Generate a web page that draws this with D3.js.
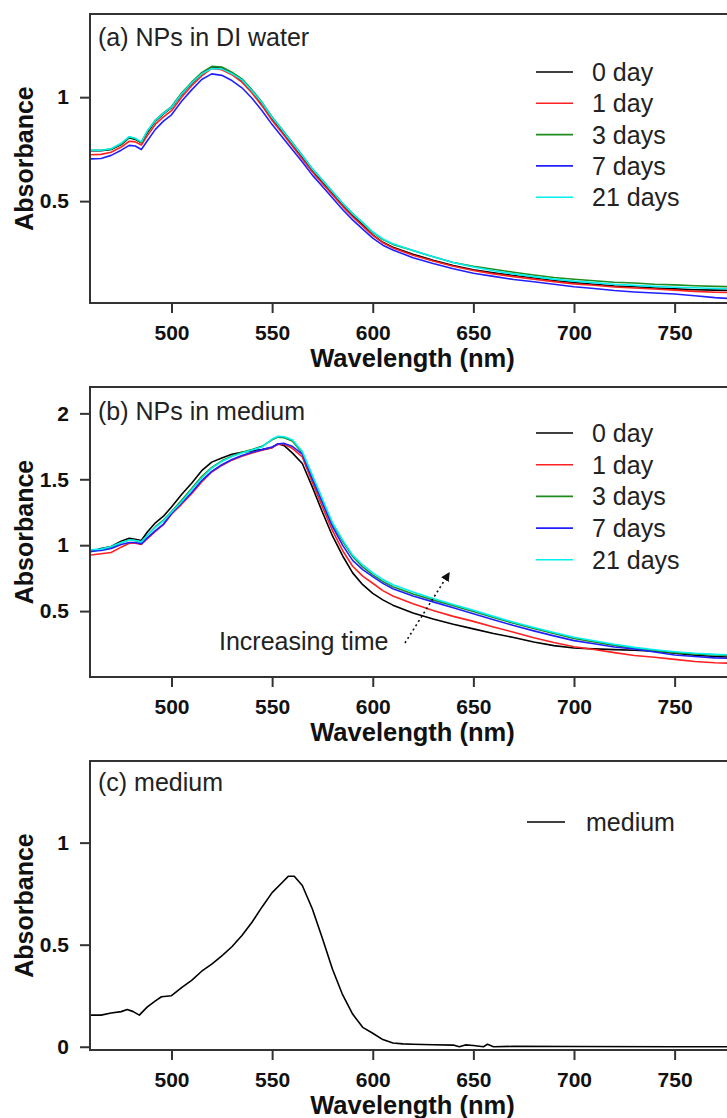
<!DOCTYPE html>
<html>
<head>
<meta charset="utf-8">
<script src="https://cdn.jsdelivr.net/npm/d3@7"></script>
<style>
  html, body { margin: 0; padding: 0; background: #fff; }
  svg { display: block; font-family: "Liberation Sans", Arial, sans-serif; }
</style>
</head>
<body>
<svg id="chart" width="727" height="1118"></svg>
<script>
// ---------------- DATA ----------------
const xTicks = [500, 550, 600, 650, 700, 750];
const yTicksA = [0.5, 1];
const yTicksB = [0.5, 1, 1.5, 2];
const yTicksC = [0, 0.5, 1];
const yTickLabelsA = ["0.5", "1"];
const yTickLabelsB = ["0.5", "1", "1.5", "2"];
const yTickLabelsC = ["0", "0.5", "1"];

const seriesNames = ["0 day", "1 day", "3 days", "7 days", "21 days"];
const mediumName = ["medium"];

const titles = ["(a) NPs in DI water", "(b) NPs in medium", "(c) medium"];
const xTitle = "Wavelength (nm)";
const yTitle = "Absorbance";

// Panel (a): NPs in DI water
const wavelengthsA = [460,465,470,475,479,482,485,488,492,496,500,505,510,515,520,525,530,535,540,545,550,555,560,565,570,575,580,585,590,595,600,605,610,620,630,640,650,660,670,680,690,700,710,720,730,740,750,760,770,780,790,800];
const a_day0  = [0.742,0.742,0.748,0.772,0.805,0.797,0.780,0.830,0.885,0.920,0.950,1.013,1.066,1.112,1.142,1.140,1.115,1.080,1.027,0.966,0.895,0.835,0.772,0.710,0.645,0.590,0.535,0.480,0.430,0.385,0.338,0.302,0.278,0.245,0.215,0.190,0.170,0.155,0.142,0.130,0.118,0.108,0.100,0.092,0.088,0.082,0.078,0.074,0.072,0.070,0.069,0.068];
const a_day1  = [0.723,0.725,0.735,0.760,0.788,0.785,0.770,0.815,0.870,0.905,0.935,1.000,1.055,1.102,1.138,1.132,1.108,1.072,1.020,0.958,0.888,0.828,0.765,0.703,0.640,0.585,0.530,0.475,0.425,0.380,0.335,0.300,0.275,0.240,0.212,0.187,0.166,0.150,0.137,0.125,0.113,0.102,0.095,0.087,0.082,0.077,0.072,0.066,0.062,0.060,0.059,0.058];
const a_day3  = [0.745,0.745,0.750,0.775,0.808,0.800,0.782,0.835,0.890,0.925,0.955,1.020,1.072,1.118,1.148,1.145,1.120,1.088,1.035,0.975,0.905,0.845,0.782,0.720,0.655,0.600,0.545,0.490,0.440,0.395,0.350,0.315,0.292,0.262,0.232,0.205,0.186,0.172,0.158,0.145,0.133,0.124,0.117,0.110,0.106,0.100,0.097,0.093,0.090,0.088,0.086,0.085];
const a_day7  = [0.703,0.705,0.720,0.745,0.768,0.765,0.748,0.790,0.845,0.885,0.915,0.980,1.035,1.085,1.112,1.105,1.080,1.045,0.995,0.935,0.868,0.808,0.748,0.688,0.625,0.570,0.515,0.460,0.410,0.365,0.322,0.288,0.265,0.228,0.200,0.175,0.153,0.138,0.123,0.112,0.100,0.088,0.080,0.070,0.063,0.058,0.053,0.045,0.036,0.030,0.028,0.026];
const a_day21 = [0.745,0.745,0.752,0.778,0.810,0.802,0.785,0.838,0.888,0.922,0.952,1.015,1.068,1.112,1.138,1.136,1.113,1.083,1.030,0.972,0.902,0.842,0.780,0.718,0.655,0.600,0.545,0.490,0.440,0.397,0.352,0.318,0.295,0.263,0.232,0.205,0.183,0.165,0.150,0.137,0.125,0.115,0.108,0.100,0.095,0.090,0.086,0.083,0.080,0.078,0.077,0.076];

// Panel (b): NPs in medium
const wavelengthsB = [460,465,470,475,479,482,485,488,492,496,500,505,510,515,520,525,530,535,540,545,550,553,556,560,565,570,575,580,585,590,595,600,605,610,620,630,640,650,660,670,680,690,700,710,720,730,740,750,760,770,780,790,800];
const b_day0  = [0.950,0.975,0.990,1.030,1.052,1.045,1.035,1.100,1.170,1.220,1.290,1.385,1.470,1.565,1.630,1.662,1.690,1.705,1.715,1.725,1.740,1.770,1.755,1.700,1.620,1.440,1.250,1.070,0.920,0.790,0.700,0.635,0.585,0.545,0.485,0.440,0.400,0.365,0.330,0.300,0.265,0.238,0.220,0.213,0.208,0.203,0.195,0.180,0.165,0.155,0.150,0.148,0.146];
const b_day1  = [0.926,0.935,0.945,0.985,1.015,1.015,1.005,1.050,1.105,1.155,1.235,1.310,1.390,1.480,1.555,1.605,1.645,1.675,1.700,1.720,1.740,1.765,1.765,1.735,1.670,1.475,1.290,1.110,0.960,0.840,0.765,0.711,0.655,0.615,0.555,0.505,0.460,0.422,0.380,0.340,0.298,0.262,0.230,0.208,0.185,0.163,0.150,0.134,0.118,0.108,0.104,0.102,0.100];
const b_day3  = [0.955,0.965,0.985,1.020,1.040,1.035,1.020,1.075,1.140,1.190,1.255,1.340,1.430,1.520,1.590,1.640,1.675,1.705,1.725,1.750,1.800,1.820,1.815,1.790,1.700,1.520,1.340,1.160,1.030,0.915,0.835,0.775,0.725,0.685,0.630,0.585,0.540,0.497,0.452,0.408,0.368,0.330,0.292,0.265,0.240,0.218,0.200,0.185,0.175,0.168,0.165,0.163,0.160];
const b_day7  = [0.955,0.960,0.975,1.005,1.020,1.020,1.010,1.055,1.110,1.160,1.240,1.320,1.400,1.490,1.560,1.610,1.650,1.680,1.705,1.725,1.745,1.770,1.772,1.750,1.690,1.500,1.320,1.140,1.000,0.885,0.815,0.761,0.710,0.670,0.615,0.570,0.525,0.480,0.435,0.390,0.350,0.312,0.276,0.252,0.228,0.212,0.190,0.167,0.155,0.145,0.140,0.138,0.136];
const b_day21 = [0.965,0.970,0.990,1.020,1.040,1.035,1.025,1.075,1.135,1.185,1.250,1.330,1.420,1.510,1.585,1.635,1.672,1.700,1.722,1.745,1.805,1.826,1.822,1.800,1.710,1.530,1.350,1.170,1.040,0.925,0.850,0.790,0.740,0.700,0.645,0.595,0.550,0.507,0.460,0.415,0.375,0.338,0.302,0.275,0.248,0.225,0.207,0.192,0.180,0.172,0.166,0.163,0.160];

// Panel (c): medium
const wavelengthsC = [460,465,470,475,478,481,484,488,492,495,500,505,510,515,520,525,530,535,540,545,550,555,558,561,565,570,575,580,585,590,595,600,605,610,615,620,630,640,643,646,650,655,657,660,670,700,750,800];
const c_medium = [0.155,0.155,0.165,0.172,0.182,0.172,0.155,0.195,0.225,0.245,0.250,0.290,0.325,0.370,0.405,0.445,0.490,0.545,0.610,0.685,0.755,0.805,0.835,0.835,0.790,0.675,0.530,0.380,0.255,0.160,0.095,0.066,0.035,0.018,0.014,0.012,0.010,0.008,0.000,0.009,0.006,0.000,0.012,0.000,0.002,0.001,0.000,0.000];

// Annotation in panel (b), data units
const annotText = "Increasing time";
const annotTextPos = [523.6, 0.27];   // [wavelength, absorbance] of text start
const annotArrow = [[616, 0.258], [638, 0.79]];

// ---------------- STYLE / LAYOUT ----------------
const colors = ["#000000", "#ff2020", "#1e8c1e", "#2020ff", "#00f0f0"];
const frameColor = "#333";
const left = 90, right = 735;
const panels = [
  { top: 14,  bottom: 303,  yDomain: [0.01, 1.40],  yTicks: yTicksA, yLabels: yTickLabelsA,
    xs: wavelengthsA, series: [a_day0, a_day1, a_day3, a_day7, a_day21], names: seriesNames, cols: colors,
    title: titles[0], titleY: 37, legend: { x1: 536, x2: 573, tx: 592, y0: 72, dy: 31.3 } },
  { top: 387, bottom: 677,  yDomain: [0, 2.2],      yTicks: yTicksB, yLabels: yTickLabelsB,
    xs: wavelengthsB, series: [b_day0, b_day1, b_day3, b_day7, b_day21], names: seriesNames, cols: colors,
    title: titles[1], titleY: 411, legend: { x1: 536, x2: 573, tx: 592, y0: 433, dy: 31.7 } },
  { top: 761, bottom: 1050, yDomain: [-0.016, 1.40], yTicks: yTicksC, yLabels: yTickLabelsC,
    xs: wavelengthsC, series: [c_medium], names: mediumName, cols: ["#000000"],
    title: titles[2], titleY: 782, legend: { x1: 527, x2: 565, tx: 586, y0: 822, dy: 31 } }
];

const svg = d3.select("#chart");
const defs = svg.append("defs");
defs.append("marker").attr("id", "arrowhead")
  .attr("viewBox", "0 0 10 10").attr("refX", 9).attr("refY", 5)
  .attr("markerWidth", 9).attr("markerHeight", 9).attr("markerUnits", "userSpaceOnUse")
  .attr("orient", "auto")
  .append("path").attr("d", "M0,0 L10,5 L0,10 Z").attr("fill", "#111");

const x = d3.scaleLinear().domain([459.5, 780]).range([left, right]);

panels.forEach((p, i) => {
  const y = d3.scaleLinear().domain(p.yDomain).range([p.bottom, p.top]);
  const g = svg.append("g");

  const clipId = "clip" + i;
  defs.append("clipPath").attr("id", clipId)
    .append("rect").attr("x", left).attr("y", p.top)
    .attr("width", right - left).attr("height", p.bottom - p.top);

  // series lines
  const line = d3.line().x((d, k) => x(p.xs[k])).y(d => y(d));
  const lines = g.append("g").attr("clip-path", `url(#${clipId})`);
  p.series.forEach((s, k) => {
    lines.append("path").datum(s)
      .attr("d", line)
      .attr("fill", "none")
      .attr("stroke", p.cols[k])
      .attr("stroke-width", 1.6)
      .attr("stroke-linejoin", "round");
  });

  // frame
  g.append("rect").attr("x", left).attr("y", p.top)
    .attr("width", right - left).attr("height", p.bottom - p.top)
    .attr("fill", "none").attr("stroke", frameColor).attr("stroke-width", 2);

  // x axis
  const xAxis = g.append("g").attr("transform", `translate(0,${p.bottom})`)
    .call(d3.axisBottom(x).tickValues(xTicks).tickSize(10).tickPadding(12).tickFormat(d3.format("d")));
  xAxis.select(".domain").remove();
  xAxis.selectAll(".tick line").attr("stroke", frameColor).attr("stroke-width", 2);
  xAxis.selectAll(".tick text").attr("font-family", "Liberation Sans, Arial, sans-serif")
    .attr("font-size", 21).attr("font-weight", "bold").attr("fill", "#111");

  // y axis
  const yAxis = g.append("g").attr("transform", `translate(${left},0)`)
    .call(d3.axisLeft(y).tickValues(p.yTicks).tickSize(10).tickPadding(11)
      .tickFormat((d, k) => p.yLabels[k]));
  yAxis.select(".domain").remove();
  yAxis.selectAll(".tick line").attr("stroke", frameColor).attr("stroke-width", 2);
  yAxis.selectAll(".tick text").attr("font-family", "Liberation Sans, Arial, sans-serif")
    .attr("font-size", 21).attr("font-weight", "bold").attr("fill", "#111");

  // axis titles
  g.append("text").attr("x", (left + right) / 2).attr("y", p.bottom + 55)
    .attr("text-anchor", "middle").attr("dominant-baseline", "central")
    .attr("font-size", 25.5).attr("font-weight", "bold").attr("fill", "#111")
    .text(xTitle);
  g.append("text")
    .attr("transform", `translate(24,${(p.top + p.bottom) / 2}) rotate(-90)`)
    .attr("text-anchor", "middle").attr("dominant-baseline", "central")
    .attr("font-size", 25).attr("font-weight", "bold").attr("fill", "#111")
    .text(yTitle);

  // panel title
  g.append("text").attr("x", left + 8).attr("y", p.titleY)
    .attr("dominant-baseline", "central")
    .attr("font-size", 25).attr("fill", "#222").text(p.title);

  // legend
  const L = p.legend;
  p.names.forEach((n, k) => {
    const ly = L.y0 + k * L.dy;
    g.append("line").attr("x1", L.x1).attr("x2", L.x2).attr("y1", ly).attr("y2", ly)
      .attr("stroke", p.cols[k]).attr("stroke-width", 1.6);
    g.append("text").attr("x", L.tx).attr("y", ly).attr("dominant-baseline", "central")
      .attr("font-size", 25).attr("fill", "#222").text(n);
  });

  // annotation in panel (b)
  if (i === 1) {
    g.append("text").attr("x", x(annotTextPos[0])).attr("y", y(annotTextPos[1]))
      .attr("dominant-baseline", "central")
      .attr("font-size", 25).attr("fill", "#222").text(annotText);
    g.append("line")
      .attr("x1", x(annotArrow[0][0])).attr("y1", y(annotArrow[0][1]))
      .attr("x2", x(annotArrow[1][0])).attr("y2", y(annotArrow[1][1]))
      .attr("stroke", "#111").attr("stroke-width", 1.6)
      .attr("stroke-dasharray", "2,3")
      .attr("marker-end", "url(#arrowhead)");
  }
});
</script>
</body>
</html>
